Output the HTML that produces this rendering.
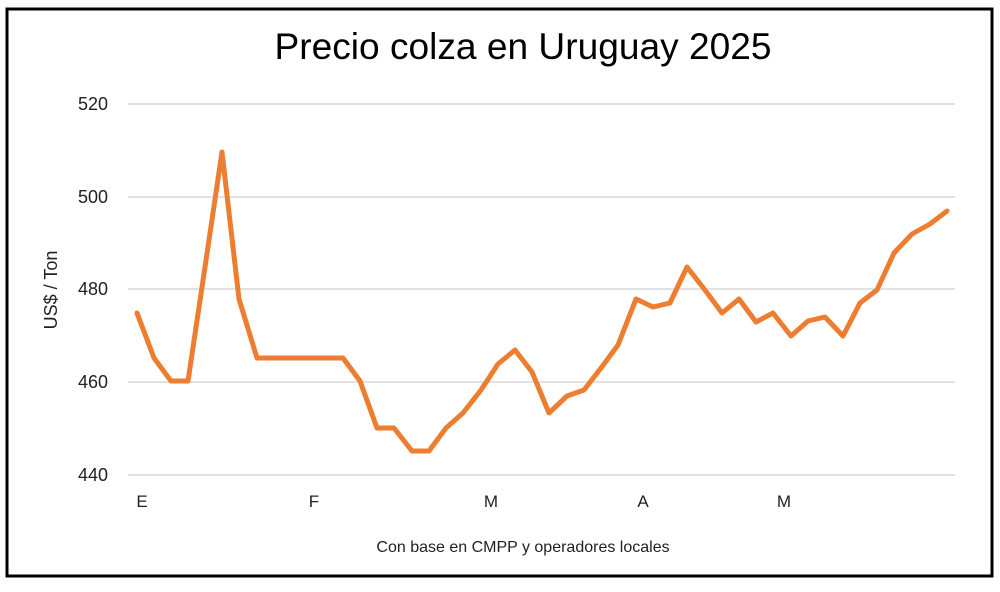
<!DOCTYPE html>
<html><head><meta charset="utf-8"><style>
body{margin:0;background:#fff;}
</style></head><body>
<svg width="1000" height="587" xmlns="http://www.w3.org/2000/svg" font-family="Liberation Sans, sans-serif">
<rect x="0" y="0" width="1000" height="587" fill="#fff"/>
<rect x="7" y="9" width="985" height="567" fill="#fff" stroke="#000" stroke-width="3"/>
<text x="523" y="59" font-size="37" text-anchor="middle" fill="#000" textLength="497" lengthAdjust="spacingAndGlyphs">Precio colza en Uruguay 2025</text>
<g stroke="#d9d9d9" stroke-width="1.5">
<line x1="128" y1="104" x2="955" y2="104"/>
<line x1="128" y1="197" x2="955" y2="197"/>
<line x1="128" y1="289" x2="955" y2="289"/>
<line x1="128" y1="382" x2="955" y2="382"/>
<line x1="128" y1="475" x2="955" y2="475"/>
</g>
<g font-size="18" fill="#222" text-anchor="end">
<text x="108" y="110">520</text>
<text x="108" y="203">500</text>
<text x="108" y="295">480</text>
<text x="108" y="388">460</text>
<text x="108" y="481">440</text>
</g>
<text transform="translate(57,290) rotate(-90)" font-size="18" fill="#222" text-anchor="middle">US$ / Ton</text>
<g font-size="17" fill="#222" text-anchor="middle">
<text x="142" y="507">E</text>
<text x="314" y="507">F</text>
<text x="491" y="507">M</text>
<text x="643" y="507">A</text>
<text x="784" y="507">M</text>
</g>
<text x="523" y="552" font-size="16" fill="#222" text-anchor="middle">Con base en CMPP y operadores locales</text>
<polyline fill="none" stroke="#ed7d31" stroke-width="5" stroke-linejoin="round" stroke-linecap="round" points="137,313 154,358 171,381 188,381 205,267 222,152 239,299 257,358 274,358 291,358 308,358 326,358 343,358 360,381 377,428 394,428 412,451 429,451 446,428 463,413 481,390 498,364 515,350 532,372 549,413 567,396 584,390 601,368 618,345 636,299 653,307 670,303 687,267 705,290 722,313 739,299 756,322 773,313 791,336 808,321 825,317 843,336 860,303 877,290 894,253 912,234 930,224 947,211"/>
</svg>
</body></html>
